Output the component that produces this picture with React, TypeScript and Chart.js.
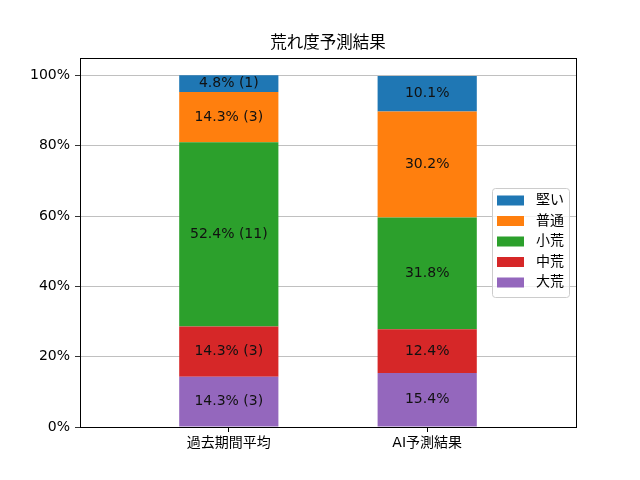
import { useEffect, useRef } from 'react';
import { Chart, registerables, Plugin } from 'chart.js';

Chart.register(...registerables);

// data
const categories = ['過去期間平均', 'AI予測結果'];
const levels = ['大荒', '中荒', '小荒', '普通', '堅い'];
const pastShare = [14.3, 14.3, 52.4, 14.3, 4.8];
const pastCounts = [3, 3, 11, 3, 1];
const aiShare = [15.4, 12.4, 31.8, 30.2, 10.1];
const yTicks = [0, 20, 40, 60, 80, 100];
const levelColors = ['#9467bd', '#d62728', '#2ca02c', '#ff7f0e', '#1f77b4'];

const FONT = '"DejaVu Sans", "Noto Sans CJK JP", sans-serif';

const framePlugin: Plugin = {
  id: 'frame',
  afterDraw(chart) {
    const { ctx, chartArea: a } = chart;
    ctx.save();
    ctx.strokeStyle = '#000';
    ctx.lineWidth = 1;
    ctx.strokeRect(Math.round(a.left) + 0.5, Math.round(a.top) + 0.5, Math.round(a.width), Math.round(a.height));
    // title
    ctx.fillStyle = '#000';
    ctx.font = `16.5px ${FONT}`;
    ctx.textAlign = 'center';
    ctx.textBaseline = 'middle';
    ctx.fillText('荒れ度予測結果', (a.left + a.right) / 2, 44);
    ctx.restore();
  },
};

const segmentLabels: Plugin = {
  id: 'segmentLabels',
  afterDatasetsDraw(chart) {
    const { ctx } = chart;
    ctx.save();
    ctx.font = `14px ${FONT}`;
    ctx.fillStyle = '#111';
    ctx.textAlign = 'center';
    ctx.textBaseline = 'middle';
    chart.data.datasets.forEach((ds, di) => {
      const meta = chart.getDatasetMeta(di);
      meta.data.forEach((el: any, i) => {
        const v = (ds.data[i] as any).y as number;
        const text = i === 0 ? `${v.toFixed(1)}% (${pastCounts[di]})` : `${v.toFixed(1)}%`;
        const p = el.getCenterPoint();
        ctx.fillText(text, p.x, p.y);
      });
    });
    ctx.restore();
  },
};

const boxLegend: Plugin = {
  id: 'boxLegend',
  afterDraw(chart) {
    const { ctx, chartArea: a } = chart;
    const w = 77;
    const h = 109;
    const left = a.right - 7 - w;
    const top = (a.top + a.bottom) / 2 - h / 2;
    ctx.save();
    ctx.fillStyle = 'rgba(255,255,255,0.8)';
    ctx.strokeStyle = '#cccccc';
    ctx.lineWidth = 1;
    ctx.beginPath();
    ctx.roundRect(left + 0.5, top + 0.5, w, h, 3);
    ctx.fill();
    ctx.stroke();
    ctx.font = `14px ${FONT}`;
    ctx.textBaseline = 'middle';
    ctx.textAlign = 'left';
    const items = [...chart.data.datasets].reverse();
    items.forEach((ds, k) => {
      const cy = top + 12.5 + k * 20.5;
      ctx.fillStyle = ds.backgroundColor as string;
      ctx.fillRect(left + 5, cy - 5, 27, 10);
      ctx.fillStyle = '#000';
      ctx.fillText(ds.label as string, left + 44, cy);
    });
    ctx.restore();
  },
};

export default function App() {
  const canvasRef = useRef<HTMLCanvasElement>(null);

  useEffect(() => {
    document.body.style.margin = '0';
    if (!canvasRef.current) return;

    const chart = new Chart(canvasRef.current, {
      type: 'bar',
      data: {
        datasets: levels.map((lv, i) => ({
          label: lv,
          data: [
            { x: 0, y: pastShare[i] },
            { x: 1, y: aiShare[i] },
          ],
          backgroundColor: levelColors[i],
          borderWidth: 0,
          barPercentage: 0.5,
          categoryPercentage: 1,
        })),
      },
      options: {
        animation: false,
        responsive: true,
        maintainAspectRatio: false,
        layout: { padding: { top: 58, right: 64, left: 0, bottom: 0 } },
        plugins: {
          legend: { display: false },
          tooltip: { enabled: false },
          title: { display: false },
        },
        scales: {
          x: {
            type: 'linear',
            stacked: true,
            offset: false,
            min: -0.75,
            max: 1.75,
            afterBuildTicks: (scale) => {
              scale.ticks = categories.map((_, i) => ({ value: i }));
            },
            afterFit: (scale) => {
              scale.height = 53;
            },
            grid: { offset: false, drawOnChartArea: false, drawTicks: true, tickLength: 5, tickColor: '#000' },
            border: { display: false },
            ticks: {
              color: '#000',
              font: { family: FONT, size: 14 },
              padding: 3,
              maxRotation: 0,
              callback: (v) => categories[Number(v)] ?? '',
            },
          },
          y: {
            stacked: true,
            min: 0,
            max: 105,
            afterBuildTicks: (scale) => {
              scale.ticks = yTicks.map((v) => ({ value: v }));
            },
            afterFit: (scale) => {
              scale.width = 80;
            },
            grid: { color: '#b0b0b0', lineWidth: 0.8, tickLength: 5, tickColor: '#000' },
            border: { display: false },
            ticks: {
              color: '#000',
              font: { family: FONT, size: 14 },
              padding: 5,
              callback: (v) => `${v}%`,
            },
          },
        },
      },
      plugins: [framePlugin, segmentLabels, boxLegend],
    });

    return () => chart.destroy();
  }, []);

  return (
    <div style={{ position: 'relative', width: 640, height: 480, background: '#fff' }}>
      <canvas ref={canvasRef}></canvas>
    </div>
  );
}
